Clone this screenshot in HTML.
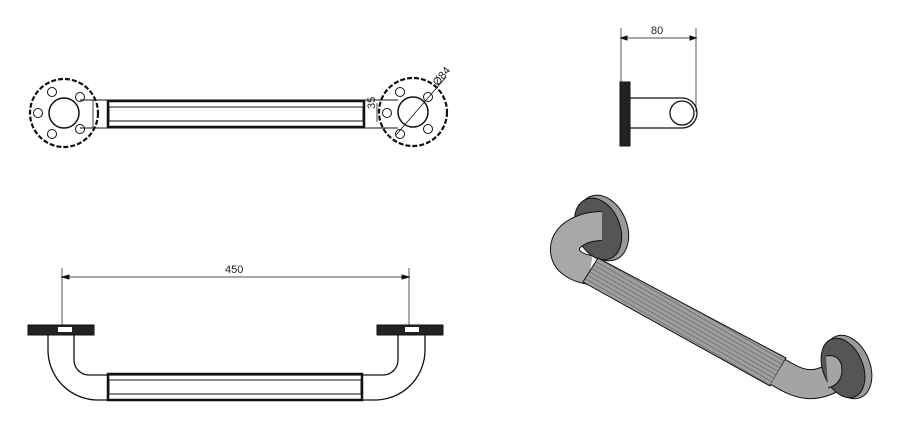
<!DOCTYPE html>
<html><head><meta charset="utf-8"><style>
html,body{margin:0;padding:0;background:#fff;width:900px;height:432px;overflow:hidden}
svg{display:block}
text{font-family:"Liberation Sans",sans-serif;font-size:11px;fill:#222}
</style></head><body>
<svg width="900" height="432" viewBox="0 0 900 432" xmlns="http://www.w3.org/2000/svg">
<defs>
<pattern id="rib" width="4" height="4" patternUnits="userSpaceOnUse" patternTransform="rotate(30)">
<rect width="4" height="4" fill="#a0a0a0"/><rect width="4" height="1.2" fill="#7a7a7a"/></pattern>
</defs>

<!-- TOP VIEW -->
<g fill="none" stroke="#111">
<circle cx="64" cy="113" r="34" stroke-width="2.2" stroke-dasharray="5 2"/>
<circle cx="64" cy="113" r="15" stroke-width="1.5"/>
<circle cx="413" cy="112" r="34" stroke-width="2.2" stroke-dasharray="5 2"/>
<circle cx="413" cy="112" r="15" stroke-width="1.5"/>
<g stroke-width="1">
<circle cx="52" cy="92" r="4.5"/><circle cx="80" cy="97" r="4.5"/><circle cx="38" cy="113" r="4.5"/><circle cx="80" cy="129" r="4.5"/><circle cx="52" cy="134" r="4.5"/>
<circle cx="400" cy="92" r="4.5"/><circle cx="428" cy="97" r="4.5"/><circle cx="387" cy="113" r="4.5"/><circle cx="428" cy="129" r="4.5"/><circle cx="400" cy="134" r="4.5"/>
</g>
<path d="M 80 100 H 398 M 80 128 H 398" stroke-width="1"/>
<rect x="108" y="101" width="256" height="26" stroke-width="2.5"/>
<rect x="109" y="107" width="254" height="14" fill="#fff" stroke-width="1"/>
<line x1="93" y1="100" x2="93" y2="128" stroke-width="0.8"/>
<line x1="377" y1="103" x2="377" y2="122" stroke-width="0.8"/>
<line x1="396" y1="135" x2="446" y2="77" stroke-width="0.8"/>
</g>
<text x="372" y="120" transform="rotate(-90 368 113)" font-size="11">35</text>
<text x="429" y="84" transform="rotate(-50 436 76)">Ø84</text>

<!-- SIDE VIEW -->
<g fill="none" stroke="#111">
<line x1="621" y1="28" x2="621" y2="82" stroke-width="0.7"/>
<line x1="696" y1="28" x2="696" y2="112" stroke-width="0.7"/>
<line x1="621" y1="38" x2="696" y2="38" stroke-width="0.7"/>
<path d="M621 38 l6 -2 v4z M696 38 l-6 -2 v4z" fill="#111"/>
<rect x="620" y="82" width="10" height="64" fill="#222" stroke-width="1"/>
<path d="M630 98 H682 A15 15 0 0 1 682 128 H630" stroke-width="1.3"/>
<circle cx="682" cy="113" r="12" stroke-width="1.3"/>
</g>
<text x="651" y="34">80</text>

<!-- FRONT VIEW -->
<g fill="none" stroke="#111">
<line x1="62" y1="268" x2="62" y2="326" stroke-width="0.7"/>
<line x1="409" y1="268" x2="409" y2="326" stroke-width="0.7"/>
<line x1="62" y1="277" x2="409" y2="277" stroke-width="0.7"/>
<path d="M62 277 l7 -2 v4z M409 277 l-7 -2 v4z" fill="#111"/>
<rect x="28" y="325" width="66" height="10" fill="#222" stroke-width="1"/>
<rect x="377" y="325" width="66" height="10" fill="#222" stroke-width="1"/>
<rect x="58" y="327" width="14" height="5" fill="#fff" stroke="none"/>
<rect x="405" y="327" width="14" height="5" fill="#fff" stroke="none"/>
<path d="M48 335 V350 A50 50 0 0 0 98 400 H375 A50 50 0 0 0 425 350 V335" stroke-width="1.3"/>
<path d="M74 335 V360 A15 15 0 0 0 89 375 H383 A15 15 0 0 0 398 360 V335" stroke-width="1.3"/>
<rect x="108" y="374" width="254" height="26" stroke-width="2.5"/>
<rect x="109" y="380" width="252" height="14" fill="#fff" stroke-width="1"/>
</g>
<text x="225" y="273">450</text>

<!-- 3D VIEW -->
<g stroke="#111" stroke-width="1">
<ellipse cx="603" cy="228" rx="24" ry="34" transform="rotate(-22 603 228)" fill="#9a9a9a"/>
<ellipse cx="598" cy="229" rx="22" ry="32" transform="rotate(-22 598 229)" fill="#555"/>
<path d="M602 226 C585 226 566 234 565 248 C564 262 578 268 590 270" fill="none" stroke="#111" stroke-width="30"/>
<path d="M602 226 C585 226 566 234 565 248 C564 262 578 268 590 270" fill="none" stroke="#a8a8a8" stroke-width="28"/>
<path d="M583 282 L598 258 L786 358 L770 386 Z" fill="url(#rib)"/>
<path d="M778 372 C800 385 815 392 845 370" fill="none" stroke="#111" stroke-width="30"/>
<path d="M778 372 C800 385 815 392 845 370" fill="none" stroke="#a4a4a4" stroke-width="28"/>
<ellipse cx="848" cy="367" rx="22" ry="33" transform="rotate(-22 848 367)" fill="#9a9a9a"/>
<ellipse cx="843" cy="368" rx="20" ry="31" transform="rotate(-22 843 368)" fill="#555"/>
<path d="M826 356 C836 354 842 360 842 370 C842 380 836 386 828 388" fill="#a4a4a4"/>
</g>
</svg>
</body></html>
